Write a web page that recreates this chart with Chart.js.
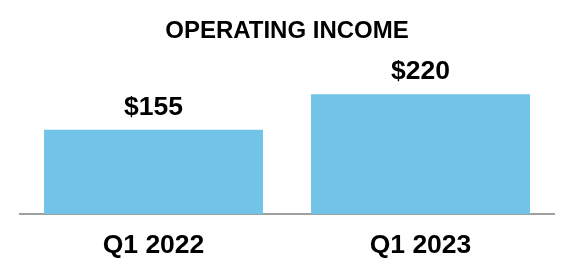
<!DOCTYPE html>
<html>
<head>
<meta charset="utf-8">
<script src="https://cdn.jsdelivr.net/npm/chart.js@4/dist/chart.umd.min.js"></script>
<style>
  html, body { margin: 0; padding: 0; background: #fff; }
  #wrap { width: 572px; height: 280px; }
</style>
</head>
<body>
<div id="wrap"><canvas id="grafica"></canvas></div>
<script>
// Datos
const categorias = ["Q1 2022", "Q1 2023"];
const valores = [155, 220];
const etiquetas = ["$155", "$220"];

const fuente = '"Liberation Sans", Arial, sans-serif';

// etiquetas encima de las barras
const etiquetasBarras = {
    id: "etiquetasBarras",
    afterDatasetsDraw(chart) {
        const ctx = chart.ctx;
        const meta = chart.getDatasetMeta(0);
        ctx.save();
        ctx.font = "bold 26.5px " + fuente;
        ctx.fillStyle = "#000";
        ctx.textAlign = "center";
        ctx.textBaseline = "alphabetic";
        meta.data.forEach((bar, i) => {
            ctx.fillText(etiquetas[i], bar.x, bar.y - 15);
        });
        ctx.restore();
    }
};

new Chart(document.getElementById("grafica"), {
    type: "bar",
    data: {
        labels: categorias,
        datasets: [{
            label: "Operating income",
            data: valores,
            backgroundColor: "#71C4E8",
            categoryPercentage: 0.82,
            barPercentage: 1
        }]
    },
    options: {
        responsive: true,
        maintainAspectRatio: false,
        animation: false,
        layout: { padding: { left: 20, right: 18, top: 0, bottom: 2 } },
        plugins: {
            legend: { display: false },
            tooltip: { enabled: false },
            title: {
                display: true,
                text: "OPERATING INCOME",
                color: "#000",
                font: { family: fuente, size: 24, weight: "bold" },
                padding: { top: 17, bottom: 7 }
            }
        },
        scales: {
            x: {
                grid: { display: false, drawTicks: false },
                border: { display: true, color: "#a0a0a0", width: 2 },
                ticks: {
                    color: "#000",
                    padding: 16,
                    font: { family: fuente, size: 26.5, weight: "bold" }
                }
            },
            y: {
                display: false,
                min: 0,
                max: 296
            }
        }
    },
    plugins: [etiquetasBarras]
});
</script>
</body>
</html>
